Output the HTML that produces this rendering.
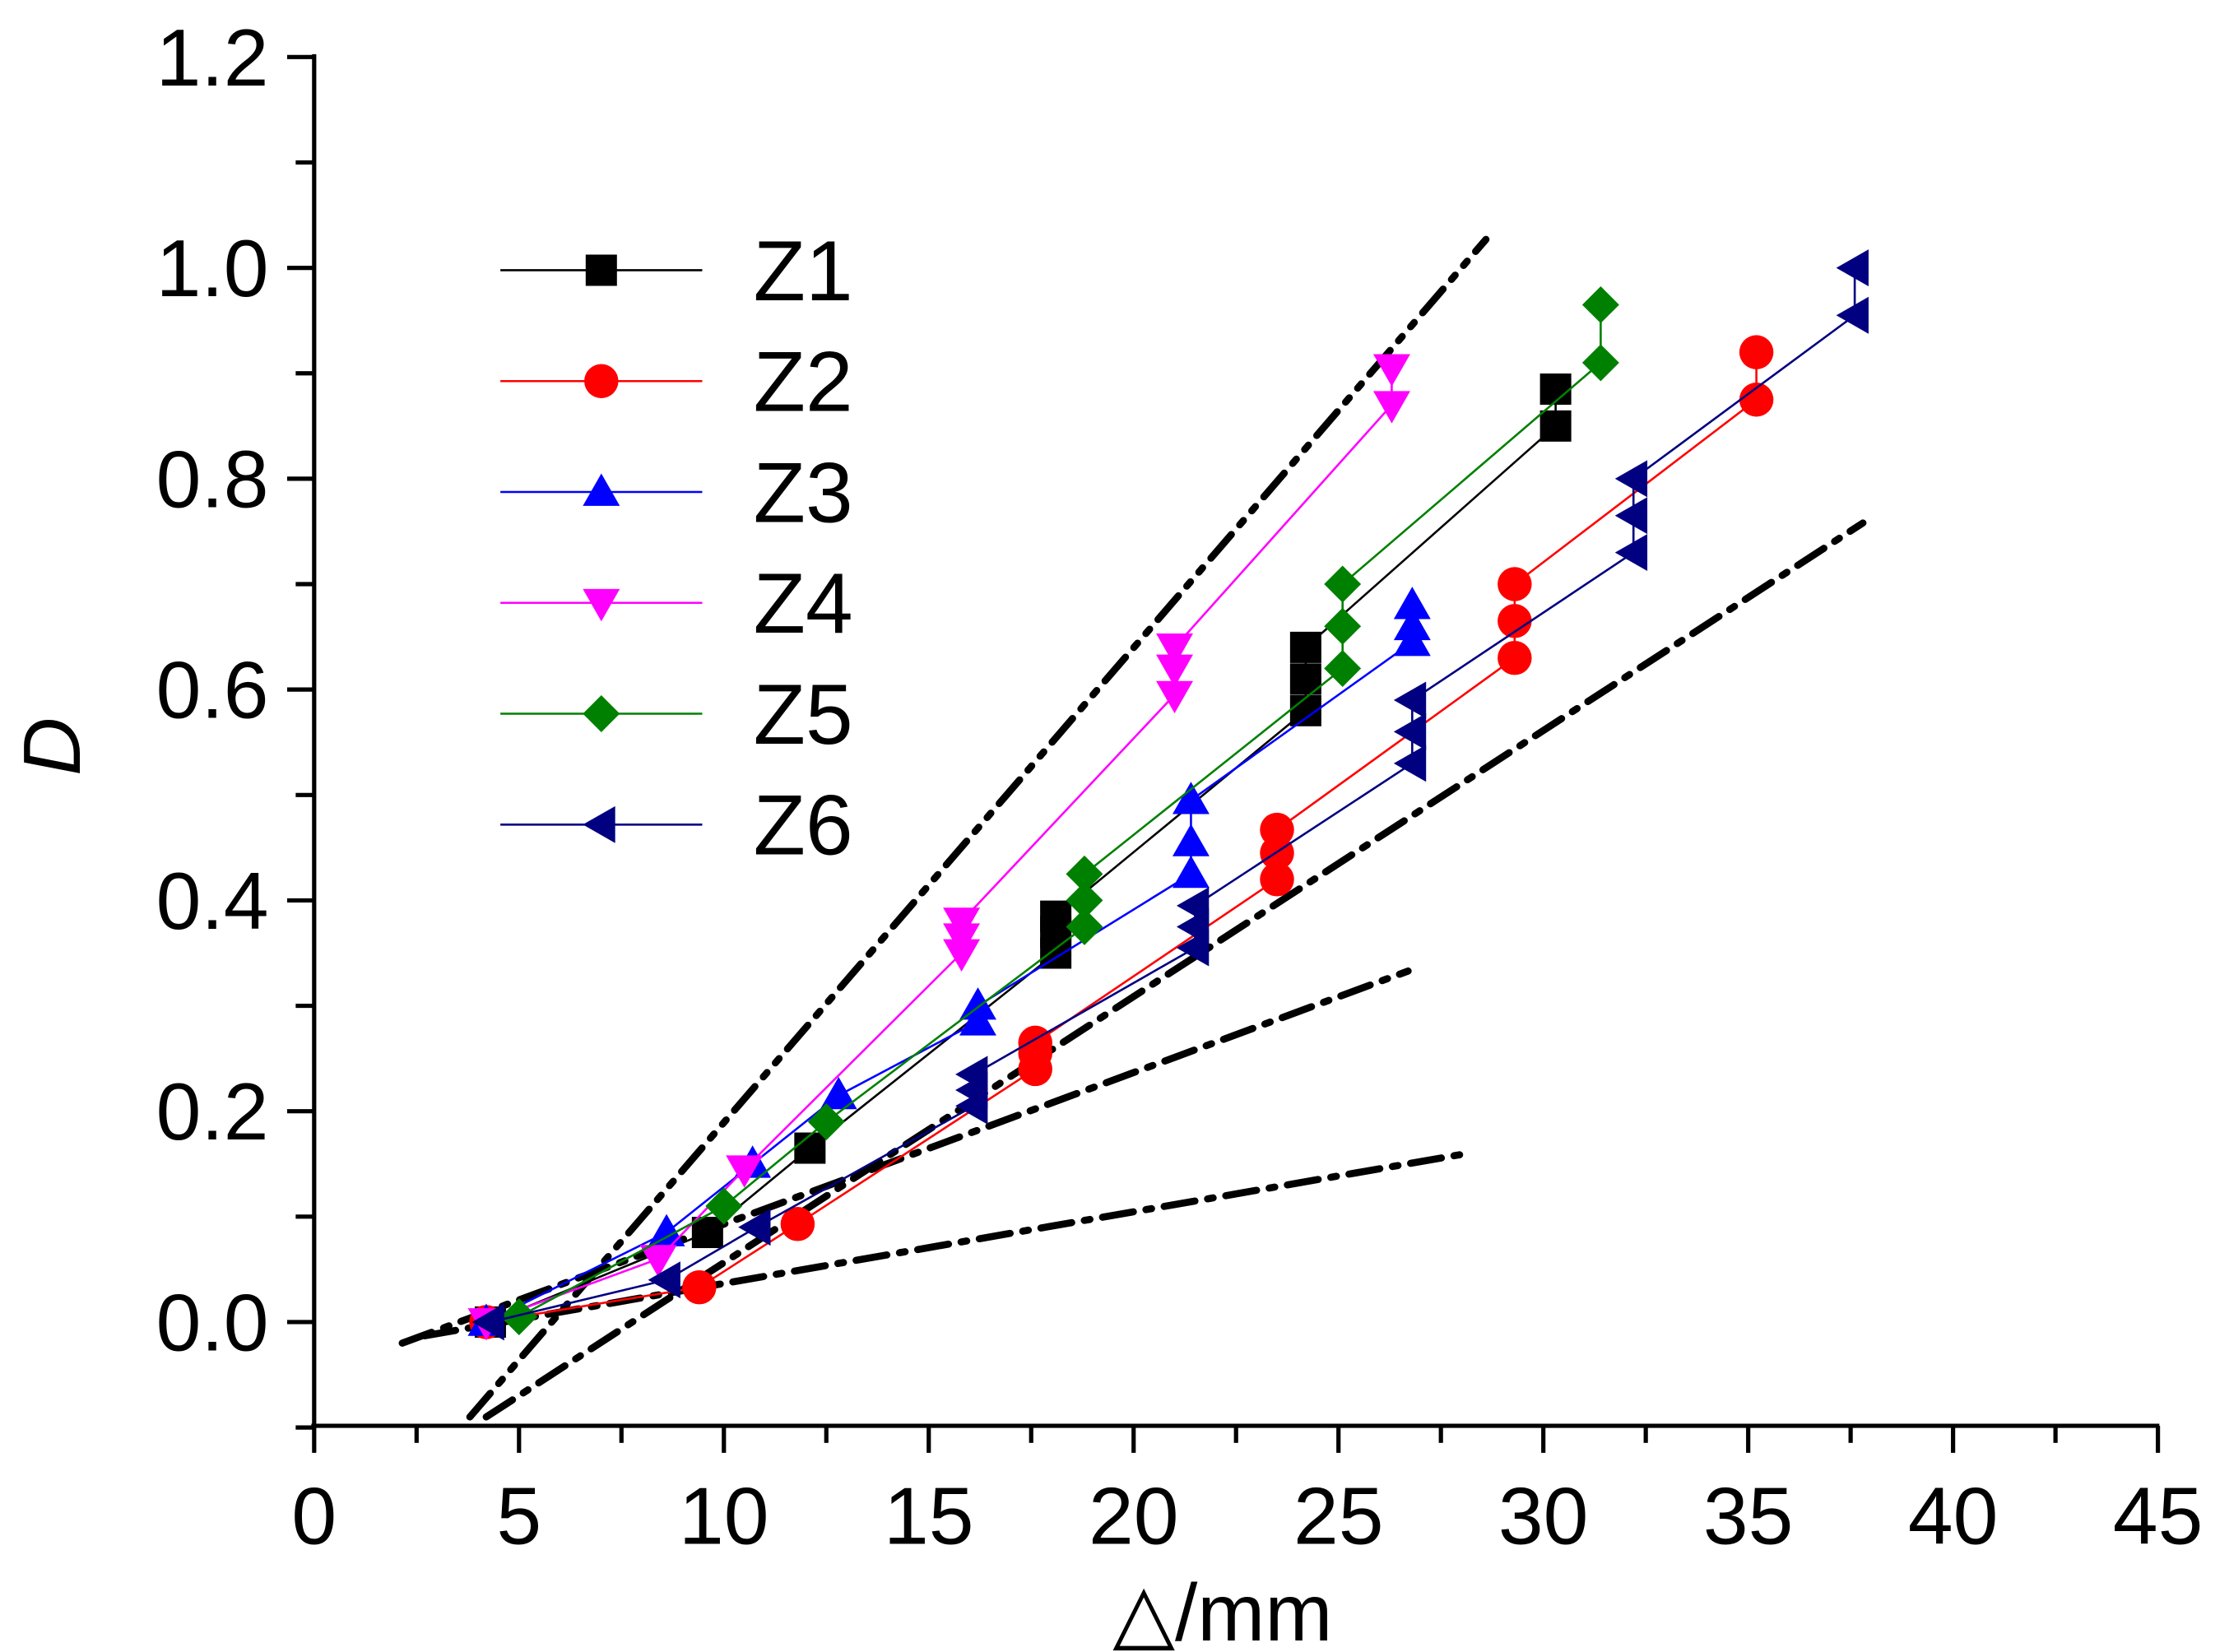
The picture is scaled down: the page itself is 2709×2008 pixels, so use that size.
<!DOCTYPE html>
<html><head><meta charset="utf-8"><style>
html,body{margin:0;padding:0;background:#fff;}
svg{display:block;}
text{font-family:"Liberation Sans",Arial,sans-serif;}
</style></head><body>
<svg id="chart" width="2709" height="2008" viewBox="0 0 1568 1162" xmlns="http://www.w3.org/2000/svg">
<g id="axes"></g><g id="refs"></g><g id="series"></g><g id="legend"></g>
</svg>
<script>
const xTicks=[0,5,10,15,20,25,30,35,40,45];
const yTicks=[0.0,0.2,0.4,0.6,0.8,1.0,1.2];
const seriesNames=["Z1","Z2","Z3","Z4","Z5","Z6"];
const seriesColors=["#000000","#ff0000","#0000ff","#ff00ff","#008000","#000080"];
const seriesShapes=["square","circle","up","down","diamond","left"];
const z1x=[4.3,9.6,12.1,18.1,18.1,18.1,24.2,24.2,24.2,30.3,30.3];
const z1y=[0,0.085,0.165,0.35,0.37,0.385,0.58,0.61,0.64,0.85,0.885];
const z2x=[4.2,9.4,11.8,17.6,17.6,17.6,23.5,23.5,23.5,29.3,29.3,29.3,35.2,35.2];
const z2y=[0,0.033,0.093,0.24,0.255,0.265,0.42,0.445,0.467,0.63,0.665,0.70,0.875,0.92];
const z3x=[4.2,8.6,10.7,12.8,16.2,16.2,21.4,21.4,21.4,26.8,26.8,26.8];
const z3y=[0,0.085,0.15,0.215,0.285,0.30,0.425,0.455,0.495,0.645,0.66,0.68];
const z4x=[4.2,8.4,10.5,15.8,15.8,15.8,21.0,21.0,21.0,26.3,26.3];
const z4y=[0,0.06,0.145,0.35,0.365,0.38,0.595,0.62,0.64,0.87,0.905];
const z5x=[5.0,10.0,12.5,18.8,18.8,18.8,25.1,25.1,25.1,31.4,31.4];
const z5y=[0.005,0.11,0.19,0.375,0.40,0.425,0.62,0.66,0.70,0.91,0.965];
const z6x=[4.3,8.6,10.8,16.1,16.1,16.1,21.5,21.5,21.5,26.8,26.8,26.8,32.2,32.2,32.2,37.6,37.6];
const z6y=[0,0.04,0.09,0.205,0.22,0.235,0.355,0.375,0.395,0.53,0.56,0.59,0.73,0.765,0.80,0.955,1.0];
const refX1=[3.8,4.2,2.15,2.7];
const refY1=[-0.09,-0.09,-0.02,-0.013];
const refX2=[28.6,37.8,26.7,28.0];
const refY2=[1.027,0.758,0.333,0.159];

const NS="http://www.w3.org/2000/svg";
const X0=221,XS=(1518-221)/45,Y0=930,YS=(930-40)/1.2;
const sx=v=>X0+v*XS, sy=v=>Y0-v*YS;
function mk(tag,attrs,parent){const e=document.createElementNS(NS,tag);for(const k in attrs)e.setAttribute(k,attrs[k]);parent.appendChild(e);return e;}
const axes=document.getElementById('axes');
let e;
e=mk('line',{x1:221,y1:38,x2:221,y2:1004,stroke:'#000','stroke-width':3},axes);


e=mk('line',{x1:219,y1:1003,x2:1519,y2:1003,stroke:'#000','stroke-width':3},axes);


for(let i=0;i<xTicks.length;i++){const x=sx(xTicks[i]);
 mk('line',{x1:x,y1:1003,x2:x,y2:1022,stroke:'#000','stroke-width':3},axes);
 if(i<xTicks.length-1)mk('line',{x1:sx(xTicks[i]+2.5),y1:1003,x2:sx(xTicks[i]+2.5),y2:1015,stroke:'#000','stroke-width':3},axes);
 e=mk('text',{x:x,y:1086,'font-size':57,'text-anchor':'middle'},axes);e.textContent=xTicks[i];
 
 }
for(let i=0;i<yTicks.length;i++){const y=sy(yTicks[i]);
 mk('line',{x1:202,y1:y,x2:221,y2:y,stroke:'#000','stroke-width':3},axes);
 mk('line',{x1:208,y1:sy(yTicks[i]-0.1),x2:221,y2:sy(yTicks[i]-0.1),stroke:'#000','stroke-width':3},axes);
 e=mk('text',{x:189,y:y+20,'font-size':57,'text-anchor':'end'},axes);e.textContent=yTicks[i].toFixed(1);
 
 }
e=mk('text',{x:860,y:1154,'font-size':57,'text-anchor':'middle'},axes);e.textContent='△/mm';


e=mk('text',{x:56,y:525,'font-size':57,'text-anchor':'middle','font-style':'italic',transform:'rotate(-90 56 525)'},axes);e.textContent='D';



const refs=document.getElementById('refs');
const dashes=['22 9 4 9 4 9','22 9 4 9','22 9 4 9','22 9 4 9'];
for(let i=0;i<refX1.length;i++){
 e=mk('line',{x1:sx(refX1[i]),y1:sy(refY1[i]),x2:sx(refX2[i]),y2:sy(refY2[i]),stroke:'#000','stroke-width':5,'stroke-dasharray':dashes[i],'stroke-linecap':'round'},refs);
 
 }

function marker(shape,cx,cy,col,parent){const s=11;let el;
 if(shape==='square')el=mk('rect',{x:cx-s,y:cy-s,width:2*s,height:2*s,fill:col},parent);
 else if(shape==='circle')el=mk('ellipse',{cx:cx,cy:cy,rx:s+1,ry:s+1,fill:col},parent);
 else{let p;const r=13;
  if(shape==='up')p=[[cx,cy-r],[cx-r,cy+r*0.75],[cx+r,cy+r*0.75]];
  if(shape==='down')p=[[cx,cy+r],[cx-r,cy-r*0.75],[cx+r,cy-r*0.75]];
  if(shape==='left')p=[[cx-r,cy],[cx+r*0.75,cy-r],[cx+r*0.75,cy+r]];
  if(shape==='diamond')p=[[cx,cy-r],[cx+r,cy],[cx,cy+r],[cx-r,cy]];
  el=mk('polygon',{points:p.map(q=>q.join(',')).join(' '),fill:col},parent);}
 return el;}
const allX=[z1x,z2x,z3x,z4x,z5x,z6x],allY=[z1y,z2y,z3y,z4y,z5y,z6y];
const sg=document.getElementById('series');
for(let s=0;s<6;s++){
 const g=mk('g',{},sg);
 
 
 const pts=allX[s].map((v,i)=>sx(v)+','+sy(allY[s][i])).join(' ');
 mk('polyline',{points:pts,fill:'none',stroke:seriesColors[s],'stroke-width':1.5},g);
 for(let i=0;i<allX[s].length;i++){
  const m=marker(seriesShapes[s],sx(allX[s][i]),sy(allY[s][i]),seriesColors[s],g);
  
  }}

const lg=document.getElementById('legend');


for(let s=0;s<6;s++){const y=190+s*78;
 const g=mk('g',{},lg);
 
 
 mk('line',{x1:352,y1:y,x2:494,y2:y,stroke:seriesColors[s],'stroke-width':1.5},g);
 marker(seriesShapes[s],423,y,seriesColors[s],g);
 const t=mk('text',{x:530,y:y+21,'font-size':60},g);t.textContent=seriesNames[s];}
</script>
</body></html>
